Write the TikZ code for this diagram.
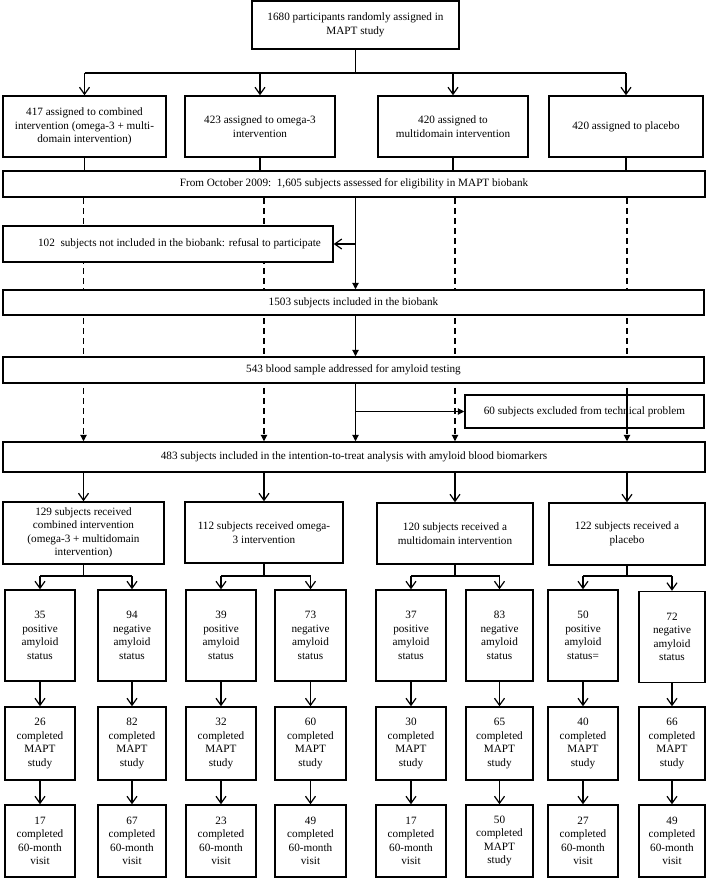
\documentclass[tikz,border=0pt]{standalone}
\usepackage{fontspec}
\setmainfont{Liberation Serif}
\usetikzlibrary{arrows.meta,backgrounds}

\begin{document}
\begin{tikzpicture}[x=1pt,y=-1pt,
  box/.style={draw,line width=1.5pt,fill=white,align=center,inner sep=0pt,font=\fontsize{11.2}{13.5}\selectfont},
  conn/.style={line width=1.1pt},
  barb/.style={conn,-{Straight Barb[length=7pt,width=10pt,line width=1.2pt]}},
  tri/.style={conn,-{Triangle[length=6.5pt,width=6.5pt]}},
  dashline/.style={tri,dash pattern=on 6pt off 4pt}]

  \useasboundingbox (0,0) rectangle (710,879);

  \node[box,minimum width=207pt,minimum height=48pt] (s0) at (355.5,25) {1680 participants randomly assigned in\\MAPT study};

  \node[box,minimum width=163pt,minimum height=61pt] (a1) at (84.5,126.5) {417 assigned to combined\\intervention (omega-3 + multi-\\domain intervention)};
  \node[box,minimum width=150pt,minimum height=61pt] (a2) at (260,126.5) {423 assigned to omega-3\\intervention};
  \node[box,minimum width=150pt,minimum height=61pt] (a3) at (453,126.5) {420 assigned to\\multidomain intervention};
  \node[box,minimum width=154pt,minimum height=61pt] (a4) at (626,126.5) {420 assigned to placebo};

  \node[box,minimum width=702pt,minimum height=26pt] (b1) at (354,184) {From October 2009:\ \ 1,605 subjects assessed for eligibility in MAPT biobank};
  \node[box,minimum width=330pt,minimum height=36pt] (x1) at (168,244) {\hspace*{23pt}102\ \ subjects not included in the biobank: refusal to participate};
  \node[box,minimum width=701pt,minimum height=25pt] (b2) at (353.5,302.5) {1503 subjects included in the biobank};
  \node[box,minimum width=701pt,minimum height=26pt] (b3) at (353.5,370) {543 blood sample addressed for amyloid testing};
  \node[box,fill=none,minimum width=239pt,minimum height=33pt] (x2) at (584.5,411.5) {60 subjects excluded from technical problem};
  \node[box,minimum width=702pt,minimum height=30pt] (b4) at (354,457) {483 subjects included in the intention-to-treat analysis with amyloid blood biomarkers};

  \node[box,minimum width=161pt,minimum height=62pt] (r1) at (83.5,533) {129 subjects received\\combined intervention\\(omega-3 + multidomain\\intervention)};
  \node[box,minimum width=158pt,minimum height=61pt] (r2) at (264,532.5) {112 subjects received omega-\\3 intervention};
  \node[box,minimum width=156pt,minimum height=61pt] (r3) at (455,533.5) {120 subjects received a\\multidomain intervention};
  \node[box,minimum width=156pt,minimum height=62pt] (r4) at (627,534) {122 subjects received a\\placebo};

  \node[box,minimum width=70pt,minimum height=91pt] (p1) at (40,635.5) {35\\positive\\amyloid\\status};
  \node[box,minimum width=68pt,minimum height=91pt] (p2) at (132,635.5) {94\\negative\\amyloid\\status};
  \node[box,minimum width=70pt,minimum height=91pt] (p3) at (221,635.5) {39\\positive\\amyloid\\status};
  \node[box,minimum width=71pt,minimum height=91pt] (p4) at (310.5,635.5) {73\\negative\\amyloid\\status};
  \node[box,minimum width=70pt,minimum height=91pt] (p5) at (411,635.5) {37\\positive\\amyloid\\status};
  \node[box,minimum width=67pt,minimum height=91pt] (p6) at (499.5,635.5) {83\\negative\\amyloid\\status};
  \node[box,minimum width=70pt,minimum height=91pt] (p7) at (583,635.5) {50\\positive\\amyloid\\status=};
  \node[box,minimum width=66pt,minimum height=91pt] (p8) at (672,637) {72\\negative\\amyloid\\status};

  \node[box,minimum width=70pt,minimum height=73pt] (m1) at (40,743.5) {26\\completed\\MAPT\\study};
  \node[box,minimum width=68pt,minimum height=73pt] (m2) at (132,743.5) {82\\completed\\MAPT\\study};
  \node[box,minimum width=70pt,minimum height=73pt] (m3) at (221,743.5) {32\\completed\\MAPT\\study};
  \node[box,minimum width=71pt,minimum height=73pt] (m4) at (310.5,743.5) {60\\completed\\MAPT\\study};
  \node[box,minimum width=70pt,minimum height=73pt] (m5) at (411,743.5) {30\\completed\\MAPT\\study};
  \node[box,minimum width=67pt,minimum height=73pt] (m6) at (499.5,743.5) {65\\completed\\MAPT\\study};
  \node[box,minimum width=70pt,minimum height=73pt] (m7) at (583,743.5) {40\\completed\\MAPT\\study};
  \node[box,minimum width=66pt,minimum height=73pt] (m8) at (672,743.5) {66\\completed\\MAPT\\study};

  \node[box,minimum width=70pt,minimum height=72pt] (v1) at (40,841) {17\\completed\\60-month\\visit};
  \node[box,minimum width=68pt,minimum height=72pt] (v2) at (132,841) {67\\completed\\60-month\\visit};
  \node[box,minimum width=70pt,minimum height=72pt] (v3) at (221,841) {23\\completed\\60-month\\visit};
  \node[box,minimum width=71pt,minimum height=72pt] (v4) at (310.5,841) {49\\completed\\60-month\\visit};
  \node[box,minimum width=70pt,minimum height=72pt] (v5) at (411,841) {17\\completed\\60-month\\visit};
  \node[box,minimum width=67pt,minimum height=72pt] (v6) at (499.5,841) {50\\completed\\MAPT\\study};
  \node[box,minimum width=70pt,minimum height=72pt] (v7) at (583,841) {27\\completed\\60-month\\visit};
  \node[box,minimum width=66pt,minimum height=72pt] (v8) at (672,841) {49\\completed\\60-month\\visit};

  \coordinate (j0) at (355.5,73);
  \coordinate (k) at (0,576);

  % randomisation
  \draw[conn] (s0) -- (j0);
  \draw[conn] (a1.north |- j0) -- (a4.north |- j0);
  \draw[barb] (a1.north |- j0) -- (a1);
  \draw[barb] (a2.north |- j0) -- (a2);
  \draw[barb] (a3.north |- j0) -- (a3);
  \draw[barb] (a4.north |- j0) -- (a4);
  \draw[conn] (a1) -- (a1 |- b1.north);
  \draw[conn] (a2) -- (a2 |- b1.north);
  \draw[conn] (a3) -- (a3 |- b1.north);
  \draw[conn] (a4) -- (a4 |- b1.north);

  % arms carried through the biobank
  \begin{pgfonlayer}{background}
    \draw[dashline] (r1 |- b1.south) -- (r1 |- b4.north);
    \draw[dashline] (r2 |- b1.south) -- (r2 |- b4.north);
    \draw[dashline] (r3 |- b1.south) -- (r3 |- b4.north);
    \draw[dashline] (r4 |- b1.south) -- (r4 |- b4.north);
  \end{pgfonlayer}
  \draw[conn,dash pattern=on 6pt off 4pt] (r4 |- x2.north) -- (r4 |- x2.south);

  \draw[tri] (b1.south -| s0) -- (b2.north -| s0);
  \draw[barb] (x1.east -| s0) -- (x1.east);
  \draw[tri] (b2.south -| s0) -- (b3.north -| s0);
  \draw[tri] (b3.south -| s0) -- (b4.north -| s0);
  \draw[tri] (x2.west -| s0) -- (x2.west);

  \draw[barb] (r1 |- b4.south) -- (r1);
  \draw[barb] (r2 |- b4.south) -- (r2);
  \draw[barb] (r3 |- b4.south) -- (r3);
  \draw[barb] (r4 |- b4.south) -- (r4);

  % amyloid status
  \draw[conn] (r1) -- (r1 |- k);
  \draw[conn] (p1.north |- k) -- (p2.north |- k);
  \draw[barb] (p1.north |- k) -- (p1);
  \draw[barb] (p2.north |- k) -- (p2);
  \draw[conn] (r2) -- (r2 |- k);
  \draw[conn] (p3.north |- k) -- (p4.north |- k);
  \draw[barb] (p3.north |- k) -- (p3);
  \draw[barb] (p4.north |- k) -- (p4);
  \draw[conn] (r3) -- (r3 |- k);
  \draw[conn] (p5.north |- k) -- (p6.north |- k);
  \draw[barb] (p5.north |- k) -- (p5);
  \draw[barb] (p6.north |- k) -- (p6);
  \draw[conn] (r4) -- (r4 |- k);
  \draw[conn] (p7.north |- k) -- (p8.north |- k);
  \draw[barb] (p7.north |- k) -- (p7);
  \draw[barb] (p8.north |- k) -- (p8);

  % follow-up
  \draw[barb] (p1) -- (m1);
  \draw[barb] (p2) -- (m2);
  \draw[barb] (p3) -- (m3);
  \draw[barb] (p4) -- (m4);
  \draw[barb] (p5) -- (m5);
  \draw[barb] (p6) -- (m6);
  \draw[barb] (p7) -- (m7);
  \draw[barb] (p8) -- (m8);
  \draw[barb] (m1) -- (v1);
  \draw[barb] (m2) -- (v2);
  \draw[barb] (m3) -- (v3);
  \draw[barb] (m4) -- (v4);
  \draw[barb] (m5) -- (v5);
  \draw[barb] (m6) -- (v6);
  \draw[barb] (m7) -- (v7);
  \draw[barb] (m8) -- (v8);

\end{tikzpicture}
\end{document}
